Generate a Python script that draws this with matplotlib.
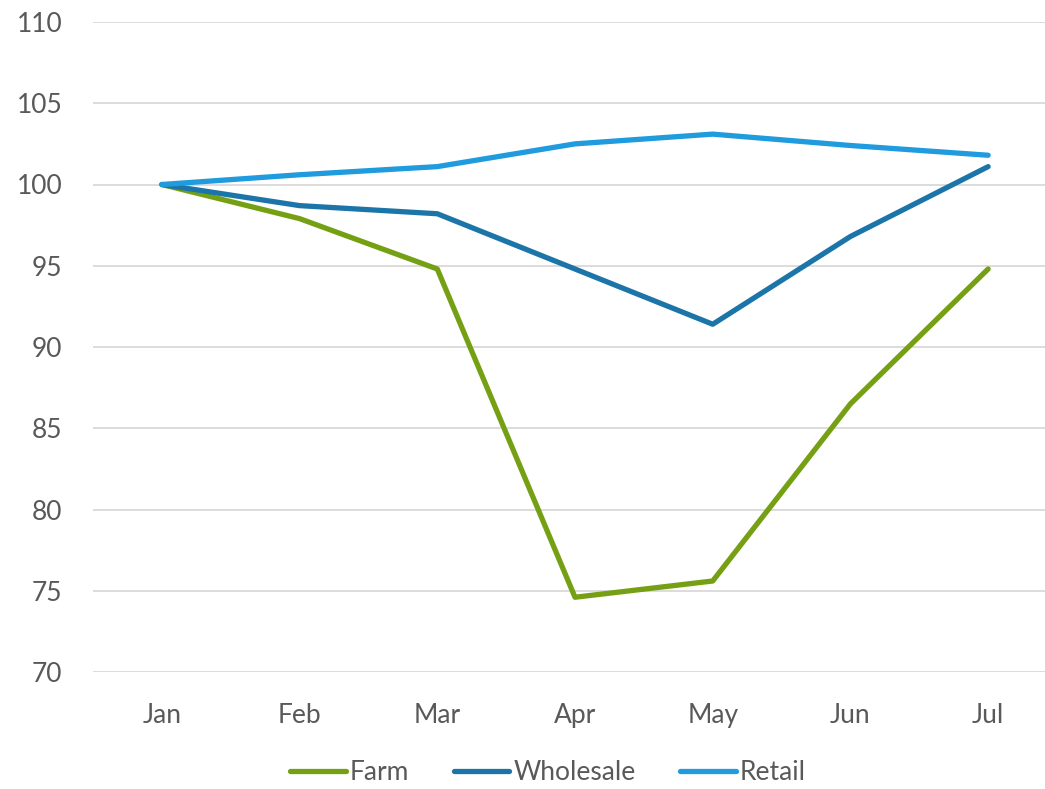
import matplotlib
matplotlib.use("Agg")
import matplotlib.pyplot as plt

# Data
months = ["Jan", "Feb", "Mar", "Apr", "May", "Jun", "Jul"]
farm = [100, 97.9, 94.8, 74.6, 75.6, 86.5, 94.8]
wholesale = [100, 98.7, 98.2, 94.8, 91.4, 96.8, 101.1]
retail = [100, 100.6, 101.1, 102.5, 103.1, 102.4, 101.8]

series = [("Farm", farm, "#76A013"), ("Wholesale", wholesale, "#1C75A8"), ("Retail", retail, "#1F9BDE")]

plt.rcParams["font.family"] = ["Lato", "DejaVu Sans"]
txt = "#595959"

fig = plt.figure(figsize=(10.45, 7.89), dpi=100)
ax = fig.add_axes([93 / 1045, 1 - 672 / 789, 964 / 1045, 650 / 789])

x = range(len(months))
for name, vals, col in series:
    ax.plot(x, vals, color=col, lw=3.8, label=name, solid_capstyle="round", solid_joinstyle="round")

ax.set_xlim(-0.5, len(months) - 0.5)
ax.set_ylim(70, 110)
ax.set_yticks(range(70, 111, 5))
ax.set_xticks(list(x))
ax.set_xticklabels(months)
ax.grid(axis="y", color="#D9D9D9", lw=1.3)
ax.set_axisbelow(True)
for s in ax.spines.values():
    s.set_visible(False)
ax.tick_params(length=0, labelsize=19, colors=txt)
ax.tick_params(axis="y", pad=22)
ax.tick_params(axis="x", pad=22)

leg = fig.legend(loc="center", bbox_to_anchor=(548 / 1045, 1 - 773 / 789), ncol=3, frameon=False,
                 fontsize=19, handlelength=2.1, handletextpad=0.15, columnspacing=1.7)
for t in leg.get_texts():
    t.set_color(txt)

fig.savefig("out.png", dpi=100)
